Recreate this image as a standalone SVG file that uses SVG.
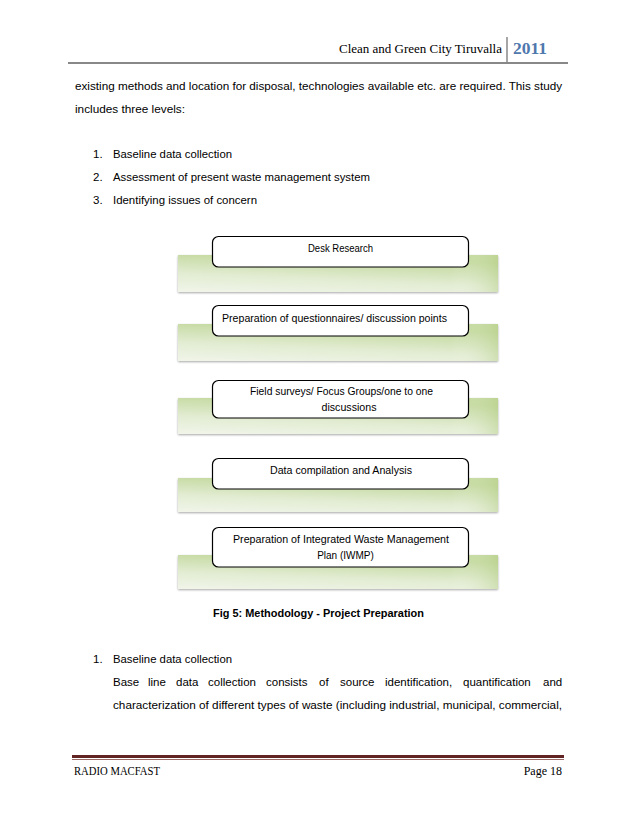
<svg xmlns="http://www.w3.org/2000/svg" width="638" height="826" viewBox="0 0 638 826">
  <defs>
    <linearGradient id="grn" x1="0" y1="1" x2="0.35" y2="0">
      <stop offset="0" stop-color="#f1f5ea"/>
      <stop offset="0.45" stop-color="#e2ecd2"/>
      <stop offset="1" stop-color="#c2d89c"/>
    </linearGradient>
    <linearGradient id="grnR" x1="0" y1="0" x2="1" y2="0">
      <stop offset="0" stop-color="#ffffff" stop-opacity="0"/>
      <stop offset="0.85" stop-color="#ffffff" stop-opacity="0"/>
      <stop offset="1" stop-color="#b6cf88" stop-opacity="0.45"/>
    </linearGradient>
    <filter id="sh" x="-5%" y="-20%" width="110%" height="150%">
      <feGaussianBlur in="SourceAlpha" stdDeviation="1"/>
      <feOffset dx="0" dy="1.2"/>
      <feComponentTransfer><feFuncA type="linear" slope="0.35"/></feComponentTransfer>
      <feMerge><feMergeNode/><feMergeNode in="SourceGraphic"/></feMerge>
    </filter>
  </defs>
  <style>
    .body { font-family: "Liberation Sans", Arial, sans-serif; font-size: 11.5px; fill: #000; }
    .hdr { font-family: "Liberation Serif", "Times New Roman", serif; font-size: 12px; fill: #000; }
    .yr { font-family: "Liberation Serif", "Times New Roman", serif; font-size: 16px; font-weight: bold; fill: #4f78ad; }
    .cap { font-family: "Liberation Sans", Arial, sans-serif; font-size: 11.5px; font-weight: bold; fill: #000; }
    .bx { font-family: "Liberation Sans", Arial, sans-serif; font-size: 10px; fill: #000; text-anchor: middle; }
    .bar { fill: url(#grn); filter: url(#sh); }
    .barR { fill: url(#grnR); }
    .card { fill: #ffffff; stroke: #000; stroke-width: 1.2; }
  </style>
  <rect width="638" height="826" fill="#ffffff"/>

  <!-- Header -->
  <g id="header">
    <text class="hdr" x="339" y="53" textLength="163" lengthAdjust="spacingAndGlyphs">Clean and Green City Tiruvalla</text>
    <line x1="507" y1="37" x2="507" y2="63" stroke="#888" stroke-width="1.5"/>
    <text class="yr" x="513" y="54" textLength="34" lengthAdjust="spacingAndGlyphs">2011</text>
    <line x1="68" y1="63" x2="568" y2="63" stroke="#888" stroke-width="2"/>
  </g>

  <!-- Intro text -->
  <g id="intro">
    <text class="body" x="75" y="90" textLength="487" lengthAdjust="spacingAndGlyphs">existing methods and location for disposal, technologies available etc. are required. This study</text>
    <text class="body" x="75" y="113" textLength="110" lengthAdjust="spacingAndGlyphs">includes three levels:</text>
    <text class="body" x="93" y="158">1.</text>
    <text class="body" x="113" y="158" textLength="119" lengthAdjust="spacingAndGlyphs">Baseline data collection</text>
    <text class="body" x="93" y="181">2.</text>
    <text class="body" x="113" y="181" textLength="257" lengthAdjust="spacingAndGlyphs">Assessment of present waste management system</text>
    <text class="body" x="93" y="204">3.</text>
    <text class="body" x="113" y="204" textLength="144" lengthAdjust="spacingAndGlyphs">Identifying issues of concern</text>
  </g>

  <!-- Diagram nodes -->
  <g id="node1">
    <rect class="bar" x="178" y="255" width="320" height="37"/>
    <rect class="barR" x="178" y="255" width="320" height="37"/>
    <rect class="card" x="212.5" y="236.5" width="256" height="30.5" rx="6"/>
    <text class="bx" x="340.5" y="252" textLength="65" lengthAdjust="spacingAndGlyphs">Desk Research</text>
  </g>
  <g id="node2">
    <rect class="bar" x="178" y="324" width="320" height="37"/>
    <rect class="barR" x="178" y="324" width="320" height="37"/>
    <rect class="card" x="212.5" y="305.5" width="256" height="30.5" rx="6"/>
    <text class="bx" x="334.5" y="322" textLength="225" lengthAdjust="spacingAndGlyphs">Preparation of questionnaires/ discussion points</text>
  </g>
  <g id="node3">
    <rect class="bar" x="178" y="398" width="320" height="36"/>
    <rect class="barR" x="178" y="398" width="320" height="36"/>
    <rect class="card" x="212.5" y="380.5" width="256" height="37.5" rx="6"/>
    <text class="bx" x="341.5" y="395" textLength="183" lengthAdjust="spacingAndGlyphs">Field surveys/ Focus Groups/one to one</text>
    <text class="bx" x="349" y="411" textLength="55" lengthAdjust="spacingAndGlyphs">discussions</text>
  </g>
  <g id="node4">
    <rect class="bar" x="178" y="478" width="320" height="34"/>
    <rect class="barR" x="178" y="478" width="320" height="34"/>
    <rect class="card" x="212.5" y="458.5" width="256" height="30.5" rx="6"/>
    <text class="bx" x="341" y="474" textLength="142" lengthAdjust="spacingAndGlyphs">Data compilation and Analysis</text>
  </g>
  <g id="node5">
    <rect class="bar" x="178" y="555" width="320" height="34"/>
    <rect class="barR" x="178" y="555" width="320" height="34"/>
    <rect class="card" x="212.5" y="527.5" width="256" height="39.5" rx="6"/>
    <text class="bx" x="341" y="543" textLength="216" lengthAdjust="spacingAndGlyphs">Preparation of Integrated Waste Management</text>
    <text class="bx" x="345.5" y="559">Plan (IWMP)</text>
  </g>
  <g id="connectors"></g>

  <!-- Caption and following text -->
  <g id="caption">
    <text class="cap" x="213" y="617" textLength="211" lengthAdjust="spacingAndGlyphs">Fig 5: Methodology - Project Preparation</text>
  </g>
  <g id="body2">
    <text class="body" x="93" y="663">1.</text>
    <text class="body" x="113" y="663" textLength="119" lengthAdjust="spacingAndGlyphs">Baseline data collection</text>
    <text class="body" y="686"><tspan x="113">Base</tspan> <tspan x="148">line</tspan> <tspan x="176">data</tspan> <tspan x="208">collection</tspan> <tspan x="266">consists</tspan> <tspan x="319">of</tspan> <tspan x="340">source</tspan> <tspan x="385">identification,</tspan> <tspan x="463">quantification</tspan> <tspan x="543">and</tspan></text>
    <text class="body" x="113" y="709" textLength="449" lengthAdjust="spacingAndGlyphs">characterization of different types of waste (including industrial, municipal, commercial,</text>
  </g>

  <!-- Footer -->
  <g id="footer">
    <rect x="72" y="755" width="492" height="3" fill="#622423"/>
    <line x1="72" y1="759.5" x2="564" y2="759.5" stroke="#9a6a68" stroke-width="1"/>
    <text class="hdr" x="74" y="775" textLength="86" lengthAdjust="spacingAndGlyphs">RADIO MACFAST</text>
    <text class="hdr" x="562" y="775" text-anchor="end">Page 18</text>
  </g>
</svg>
